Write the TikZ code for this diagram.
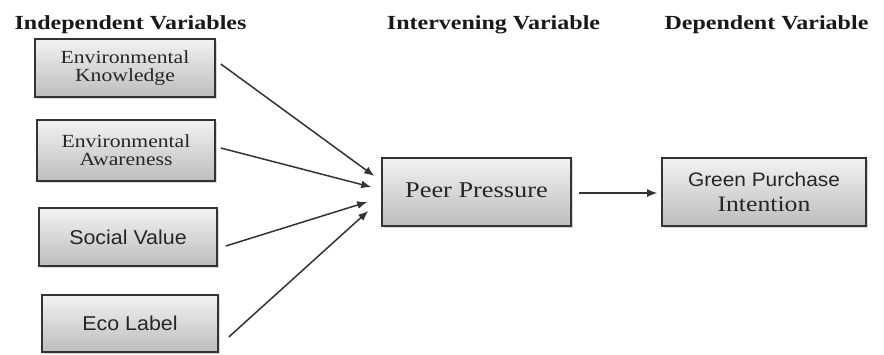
\documentclass[tikz,border=0pt]{standalone}
\usepackage{fontspec}
\setmainfont{Liberation Serif}
\newfontfamily\serw{Liberation Serif}[FakeStretch=1.17]
\newfontfamily\hdrw{Liberation Serif}[FakeStretch=1.2]
\newfontfamily\sanw{Liberation Sans}[FakeStretch=1.07]
\usetikzlibrary{arrows.meta,shadows}
\definecolor{txt}{HTML}{262626}
\definecolor{edge}{HTML}{333333}
\tikzset{
  box/.style={draw=edge, line width=1.6pt, top color=black!5, bottom color=black!26,
    drop shadow={shadow xshift=1.5pt, shadow yshift=-1.5pt, fill=black!30, opacity=0.5},
    inner sep=0pt, align=center, text=txt},
  hdr/.style={font=\hdrw\bfseries\fontsize{20}{22}\selectfont, text=black!90, inner sep=0pt},
  arr/.style={draw=edge, line width=1.5pt, -{Latex[length=10pt,width=8pt]}},
  sertxt/.style={font=\serw\fontsize{18.5}{18}\selectfont},
  santxt/.style={font=\sanw\fontsize{20}{24}\selectfont}
}
\begin{document}
\begin{tikzpicture}[x=1pt,y=1pt]
\useasboundingbox (0,0) rectangle (884,-354);
\node[hdr] (h1) at (130.5,-25) {Independent Variables};
\node[hdr] (h2) at (493.5,-25) {Intervening Variable};
\node[hdr] (h3) at (766.5,-25) {Dependent Variable};

\node[box, sertxt, minimum width=180pt, minimum height=58pt] (b1) at (125,-68) {Environmental\\Knowledge};
\node[box, sertxt, minimum width=178pt, minimum height=61pt] (b2) at (126,-150.5) {Environmental\\Awareness};
\node[box, santxt, minimum width=178pt, minimum height=58pt] (b3) at (128,-237) {Social Value};
\node[box, santxt, minimum width=176pt, minimum height=57pt] (b4) at (130,-323.5) {Eco Label};
\node[box, font=\serw\fontsize{22.5}{24}\selectfont, minimum width=189pt, minimum height=68pt] (pp) at (476.5,-192) {\raisebox{3pt}{Peer Pressure}};
\node[box, font=\fontsize{20}{25}\selectfont, minimum width=204pt, minimum height=68pt] (gp) at (764,-192)
  {{\sanw\fontsize{19.5}{25}\selectfont Green Purchase}\\{\serw\fontsize{22}{25}\selectfont Intention}};

\draw[arr] ([xshift=5pt,yshift=4pt]b1.east) -- ([xshift=-7pt,yshift=16pt]pp.west);
\draw[arr] ([xshift=5pt,yshift=2.5pt]b2.east) -- ([xshift=-10pt,yshift=5pt]pp.west);
\draw[arr] ([xshift=8pt,yshift=-9pt]b3.east) -- ([xshift=-14pt,yshift=-10pt]pp.west);
\draw[arr] ([xshift=10pt,yshift=-13.5pt]b4.east) -- ([xshift=-13pt,yshift=-19pt]pp.west);
\draw[arr] ([xshift=7pt,yshift=-1pt]pp.east) -- ([xshift=-4pt,yshift=-1pt]gp.west);
\end{tikzpicture}
\end{document}
